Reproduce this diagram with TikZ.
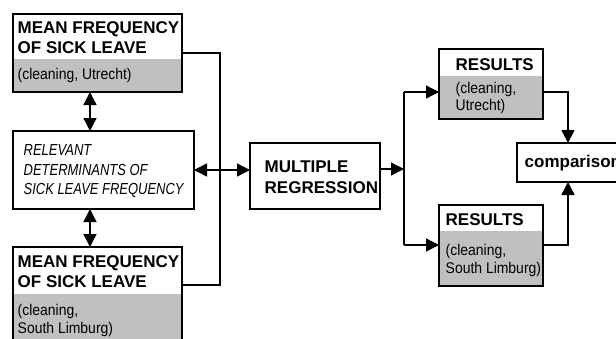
\documentclass[tikz,border=0pt]{standalone}
\usepackage{fontspec}
\setmainfont{Liberation Sans}
\newfontfamily\narrowit[FakeStretch=0.81]{Liberation Sans}
\newfontfamily\narrowrg[FakeStretch=0.9]{Liberation Sans}
\usetikzlibrary{arrows.meta}
\definecolor{boxgrey}{RGB}{192,192,192}
\begin{document}
\begin{tikzpicture}[x=1pt,y=-1pt,line width=1.4pt,
  box/.style={draw=black,anchor=north west,inner sep=0pt,outer sep=0pt},
  greypart/.style={fill=boxgrey,anchor=north west,inner sep=0pt,outer sep=0pt},
  hd/.style={font=\fontsize{17}{20}\selectfont\bfseries,anchor=base west,inner sep=0pt},
  rg/.style={font=\fontsize{15.5}{18}\selectfont\narrowrg,anchor=base west,inner sep=0pt},
  itx/.style={font=\fontsize{16}{19}\selectfont\narrowit\itshape,anchor=base west,inner sep=0pt},
  arr/.style={-{Triangle[length=13pt,width=13pt]}},
  dbl/.style={{Triangle[length=13pt,width=13pt]}-{Triangle[length=13pt,width=13pt]}}]
\useasboundingbox (0,0) rectangle (616,338);
\clip (0,0) rectangle (616,338);

% grey lower parts
\node[greypart,minimum width=169,minimum height=33] (mfug) at (13,59) {};
\node[greypart,minimum width=169,minimum height=60] (mfsg) at (13,294) {};
\node[greypart,minimum width=104,minimum height=43] (rug) at (439,76) {};
\node[greypart,minimum width=104,minimum height=55] (rsg) at (439,231) {};

% box outlines
\node[box,minimum width=169,minimum height=78] (mfu) at (13,14) {};
\node[box,minimum width=181,minimum height=78] (rel) at (13,131) {};
\node[box,minimum width=169,minimum height=110] (mfs) at (13,247) {};
\node[box,minimum width=130,minimum height=66] (mr) at (250,143) {};
\node[box,minimum width=104,minimum height=70] (ru) at (439,49) {};
\node[box,minimum width=104,minimum height=81] (rs) at (439,205) {};
\node[box,minimum width=120,minimum height=39] (cmp) at (517,143) {};

% texts
\node[hd] (t1a) at (17,33) {MEAN FREQUENCY};
\node[hd] (t1b) at (17,53) {OF SICK LEAVE};
\node[rg] (t1c) at (17,79) {(cleaning, Utrecht)};
\node[itx] (t2a) at (23,155) {RELEVANT};
\node[itx] (t2b) at (23,175) {DETERMINANTS OF};
\node[itx] (t2c) at (23,194) {SICK LEAVE FREQUENCY};
\node[hd] (t3a) at (17,267) {MEAN FREQUENCY};
\node[hd] (t3b) at (17,287) {OF SICK LEAVE};
\node[rg] (t3c) at (17,315) {(cleaning,};
\node[rg] (t3d) at (17,333) {South Limburg)};
\node[hd] (t4a) at (264,172) {MULTIPLE};
\node[hd] (t4b) at (264,193) {REGRESSION};
\node[hd] (t5a) at (455,70) {RESULTS};
\node[rg] (t5b) at (455,93) {(cleaning,};
\node[rg] (t5c) at (455,110) {Utrecht)};
\node[hd] (t6a) at (445,225) {RESULTS};
\node[rg] (t6b) at (445,255) {(cleaning,};
\node[rg] (t6c) at (445,273) {South Limburg)};
\node[hd] (t7) at (524,167) {comparison};

% junction coordinates
\coordinate (ax) at (90,0);
\coordinate (j1) at (220,53);
\coordinate (j2) at (220,285);
\coordinate (hy) at (0,170);
\coordinate (sp) at (404,169);
\coordinate (s1) at (404,92);
\coordinate (s2) at (404,245);
\coordinate (c1) at (568,92);
\coordinate (c2) at (568,245);

% connectors
\draw[dbl] (mfu.south -| ax) -- (rel.north -| ax);
\draw[dbl] (rel.south -| ax) -- (mfs.north -| ax);
\draw (mfu.east |- j1) -- (j1) -- (j2) -- (mfs.east |- j2);
\draw[dbl] (rel.east |- hy) -- (mr.west |- hy);
\draw[arr] (mr.east |- sp) -- (sp);
\draw (s1) -- (s2);
\draw[arr] (s1) -- (ru.west |- s1);
\draw[arr] (s2) -- (rs.west |- s2);
\draw[arr] (ru.east |- c1) -- (c1) -- (c1 |- cmp.north);
\draw[arr] (rs.east |- c2) -- (c2) -- (c2 |- cmp.south);
\end{tikzpicture}
\end{document}
